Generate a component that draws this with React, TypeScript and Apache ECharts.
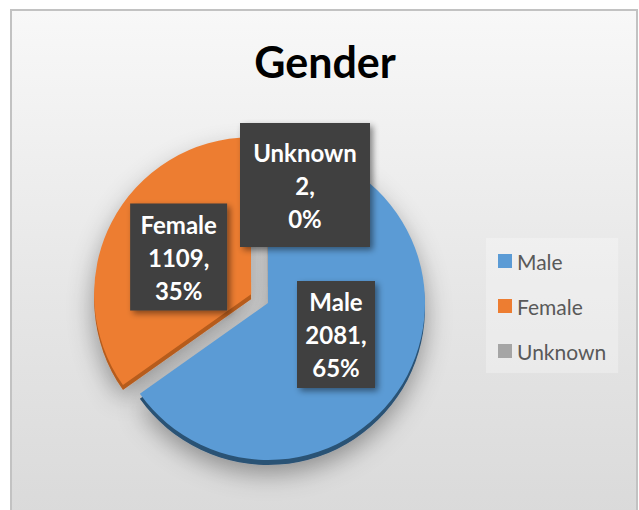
import React, { useEffect, useRef } from "react";
import * as echarts from "echarts";

// ---- data ----
const categories = ["Male", "Female", "Unknown"];
const counts = [2081, 1109, 2];
const explodedCategories = ["Female"];
const titleText = "Gender";

// ---- styles ----
const sliceColors = ["#5B9BD5", "#ED7D31", "#A5A5A5"];
const rimColors = ["#2C5275", "#B65C1F", "#6f6f6f"];
const FONT = "Lato, 'Open Sans', sans-serif";

// label box layout (centre x, centre y, content width, padding)
const labelLayoutByName: Record<string, { x: number; y: number; w: number; pad: number[] }> = {
  Male: { x: 336, y: 334.5, w: 78, pad: [4, 0, 4, 0] },
  Female: { x: 180.5, y: 259.5, w: 97, pad: [4, 0, 4, 0] },
  Unknown: { x: 305, y: 185, w: 130, pad: [14, 0, 11, 0] },
};

const PIE_CENTER = [268, 303];
const PIE_RADIUS = 157;
const RIM_DEPTH = 5;
const EXPLODE = 19;

export default function App() {
  const ref = useRef<HTMLDivElement>(null);

  useEffect(() => {
    if (!ref.current) return;
    const chart = echarts.init(ref.current, undefined, { renderer: "svg" });

    const mainData = categories.map((name, i) => {
      const lb = labelLayoutByName[name];
      return {
        name,
        value: counts[i],
        selected: explodedCategories.includes(name),
        itemStyle: { color: sliceColors[i] },
        label: { width: lb.w, padding: lb.pad },
      };
    });

    const rimData = categories.map((name, i) => ({
      name,
      value: counts[i],
      selected: explodedCategories.includes(name),
      itemStyle: { color: rimColors[i] },
    }));

    chart.setOption({
      animation: false,
      backgroundColor: "transparent",
      title: {
        text: titleText,
        left: 320,
        top: 35,
        textAlign: "center",
        textStyle: {
          fontFamily: FONT,
          fontWeight: "bold",
          fontSize: 43,
          color: "#000000",
        },
      },
      legend: {
        data: categories,
        orient: "vertical",
        left: 486,
        top: 238,
        padding: [11, 12, 10, 12],
        itemWidth: 14,
        itemHeight: 14,
        itemGap: 21,
        icon: "rect",
        backgroundColor: "rgba(255,255,255,0.28)",
        selectedMode: false,
        textStyle: {
          fontFamily: FONT,
          fontSize: 21,
          lineHeight: 24,
          color: "#595959",
        },
      },
      series: [
        {
          type: "pie",
          name: "Gender",
          z: 2,
          center: PIE_CENTER,
          radius: PIE_RADIUS,
          startAngle: 90,
          clockwise: true,
          selectedMode: "multiple",
          selectedOffset: EXPLODE,
          percentPrecision: 0,
          emphasis: { disabled: true },
          select: { itemStyle: { borderWidth: 0 } },
          avoidLabelOverlap: false,
          label: {
            show: true,
            position: "inside",
            formatter: "{b}\n{c},\n{d}%",
            fontFamily: FONT,
            fontWeight: "bold",
            fontSize: 24,
            lineHeight: 33,
            color: "#ffffff",
            align: "center",
            backgroundColor: "#3f3f3f",
            shadowColor: "rgba(0,0,0,0.45)",
            shadowBlur: 6,
            shadowOffsetX: 3,
            shadowOffsetY: 3,
          },
          labelLine: { show: false },
          labelLayout: (params: any) => {
            const lb = labelLayoutByName[categories[params.dataIndex]];
            return { x: lb.x, y: lb.y, align: "center", verticalAlign: "middle" };
          },
          data: mainData,
        },
        {
          type: "pie",
          name: "rim",
          z: 1,
          center: [PIE_CENTER[0], PIE_CENTER[1] + RIM_DEPTH],
          radius: PIE_RADIUS,
          startAngle: 90,
          clockwise: true,
          selectedMode: "multiple",
          selectedOffset: EXPLODE,
          silent: true,
          legendHoverLink: false,
          emphasis: { disabled: true },
          select: { itemStyle: { borderWidth: 0 } },
          itemStyle: {
            shadowBlur: 26,
            shadowColor: "rgba(0,0,0,0.38)",
            shadowOffsetY: 8,
            shadowOffsetX: 0,
          },
          label: { show: false },
          labelLine: { show: false },
          data: rimData,
        },
      ],
    });

    return () => chart.dispose();
  }, []);

  return (
    <div
      style={{
        position: "fixed",
        left: 0,
        top: 0,
        width: 639,
        height: 510,
        background: "#ffffff",
        overflow: "hidden",
      }}
    >
      <div
        style={{
          position: "absolute",
          left: 10,
          top: 9,
          width: 624,
          height: 520,
          border: "2px solid #c2c2c2",
          background: "linear-gradient(to bottom, #f8f8f8 0%, #e6e6e6 55%, #d9d9d9 100%)",
        }}
      />
      <div
        ref={ref}
        style={{ position: "absolute", left: 0, top: 0, width: 639, height: 510 }}
      />
    </div>
  );
}
